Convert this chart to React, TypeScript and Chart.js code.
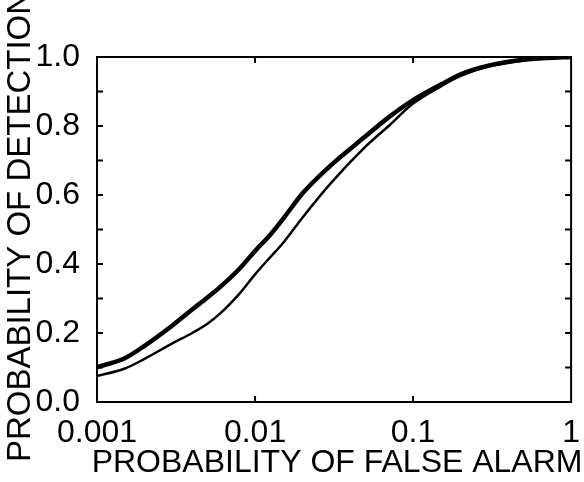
import React, { useEffect, useRef } from "react";
import { Chart, registerables } from "chart.js";

Chart.register(...registerables);

const falseAlarm = [0.001, 0.0015, 0.002, 0.003, 0.004, 0.005, 0.006, 0.008, 0.01, 0.0125, 0.015, 0.02, 0.03, 0.05, 0.07, 0.1, 0.15, 0.2, 0.3, 0.5, 0.7, 1];
const detectionUpper = [0.101, 0.127, 0.163, 0.222, 0.268, 0.303, 0.333, 0.387, 0.438, 0.485, 0.53, 0.605, 0.685, 0.77, 0.825, 0.875, 0.92, 0.95, 0.975, 0.992, 0.997, 1.0];
const detectionLower = [0.075, 0.097, 0.125, 0.17, 0.2, 0.227, 0.256, 0.315, 0.37, 0.42, 0.46, 0.535, 0.633, 0.74, 0.8, 0.865, 0.915, 0.945, 0.972, 0.99, 0.996, 1.0];

const xTickValues = [0.001, 0.01, 0.1, 1];
const xTickLabels = ["0.001", "0.01", "0.1", "1"];
const yTickValues = [0, 0.2, 0.4, 0.6, 0.8, 1.0];
const yTickLabels = ["0.0", "0.2", "0.4", "0.6", "0.8", "1.0"];
const yMarkValues = [0, 0.1, 0.2, 0.3, 0.4, 0.5, 0.6, 0.7, 0.8, 0.9, 1.0];
const xMarkValues = [0.01, 0.1];
const xTitle = "PROBABILITY OF FALSE ALARM";
const yTitle = "PROBABILITY OF DETECTION";

const FONT = "'Liberation Sans', Arial, sans-serif";

export default function App() {
  const ref = useRef<HTMLCanvasElement | null>(null);
  useEffect(() => {
    if (!ref.current) return;
    const frame = {
      id: "frame",
      afterDatasetsDraw(chart: any) {
        const { ctx, chartArea } = chart;
        const { left, right, top, bottom } = chartArea;
        const xs = chart.scales.x;
        const ys = chart.scales.y;
        const tl = 6;
        ctx.save();
        ctx.strokeStyle = "#000";
        ctx.lineWidth = 2;
        ctx.beginPath();
        for (const v of yMarkValues) {
          const py = ys.getPixelForValue(v);
          ctx.moveTo(left, py);
          ctx.lineTo(left + tl, py);
          ctx.moveTo(right, py);
          ctx.lineTo(right - tl, py);
        }
        for (const v of xMarkValues) {
          const px = xs.getPixelForValue(v);
          ctx.moveTo(px, bottom);
          ctx.lineTo(px, bottom - tl);
          ctx.moveTo(px, top);
          ctx.lineTo(px, top + tl);
        }
        ctx.stroke();
        ctx.strokeRect(left, top, right - left, bottom - top);

        ctx.fillStyle = "#000";
        ctx.font = `32px ${FONT}`;
        ctx.textAlign = "center";
        ctx.textBaseline = "middle";
        ctx.fillText(xTitle, (left + right) / 2 + 3, 463);
        ctx.translate(21, (top + bottom) / 2 - 3);
        ctx.rotate(-Math.PI / 2);
        ctx.font = `33px ${FONT}`;
        ctx.fillText(yTitle, 0, 0);
        ctx.restore();
      },
    };
    const chart = new Chart(ref.current, {
      type: "line",
      data: {
        datasets: [
          {
            data: falseAlarm.map((x, i) => ({ x, y: detectionUpper[i] })),
            borderColor: "#000",
            borderWidth: 4.5,
            pointRadius: 0,
            cubicInterpolationMode: "monotone",
            fill: false,
          },
          {
            data: falseAlarm.map((x, i) => ({ x, y: detectionLower[i] })),
            borderColor: "#000",
            borderWidth: 2.5,
            pointRadius: 0,
            cubicInterpolationMode: "monotone",
            fill: false,
          },
        ],
      },
      options: {
        responsive: false,
        animation: false,
        events: [],
        layout: { padding: { top: 57, right: 8, left: 0, bottom: 0 } },
        plugins: { legend: { display: false }, tooltip: { enabled: false } },
        scales: {
          x: {
            type: "logarithmic",
            min: 0.001,
            max: 1,
            grid: { display: false },
            border: { display: false },
            afterBuildTicks: (s: any) => {
              s.ticks = xTickValues.map((v) => ({ value: v }));
            },
            afterFit: (s: any) => {
              s.height = 80;
            },
            ticks: {
              autoSkip: false,
              maxRotation: 0,
              padding: 4,
              color: "#000",
              font: { family: FONT, size: 32 },
              callback: (v: any) => {
                const i = xTickValues.findIndex((t) => Math.abs(t - Number(v)) < 1e-9);
                return i >= 0 ? xTickLabels[i] : "";
              },
            },
            title: { display: false },
          },
          y: {
            min: 0,
            max: 1,
            grid: { display: false },
            border: { display: false },
            afterBuildTicks: (s: any) => {
              s.ticks = yTickValues.map((v) => ({ value: v }));
            },
            afterFit: (s: any) => {
              s.width = 97;
            },
            ticks: {
              padding: 9,
              color: "#000",
              font: { family: FONT, size: 32 },
              callback: (v: any) => {
                const i = yTickValues.findIndex((t) => Math.abs(t - Number(v)) < 1e-9);
                return i >= 0 ? yTickLabels[i] : "";
              },
            },
            title: { display: false },
          },
        },
      },
      plugins: [frame],
    } as any);
    return () => chart.destroy();
  }, []);
  return (
    <div style={{ position: "fixed", left: 0, top: 0, width: 584, height: 482, background: "#fff" }}>
      <canvas ref={ref} width={584} height={482} style={{ width: 584, height: 482 }} />
    </div>
  );
}
